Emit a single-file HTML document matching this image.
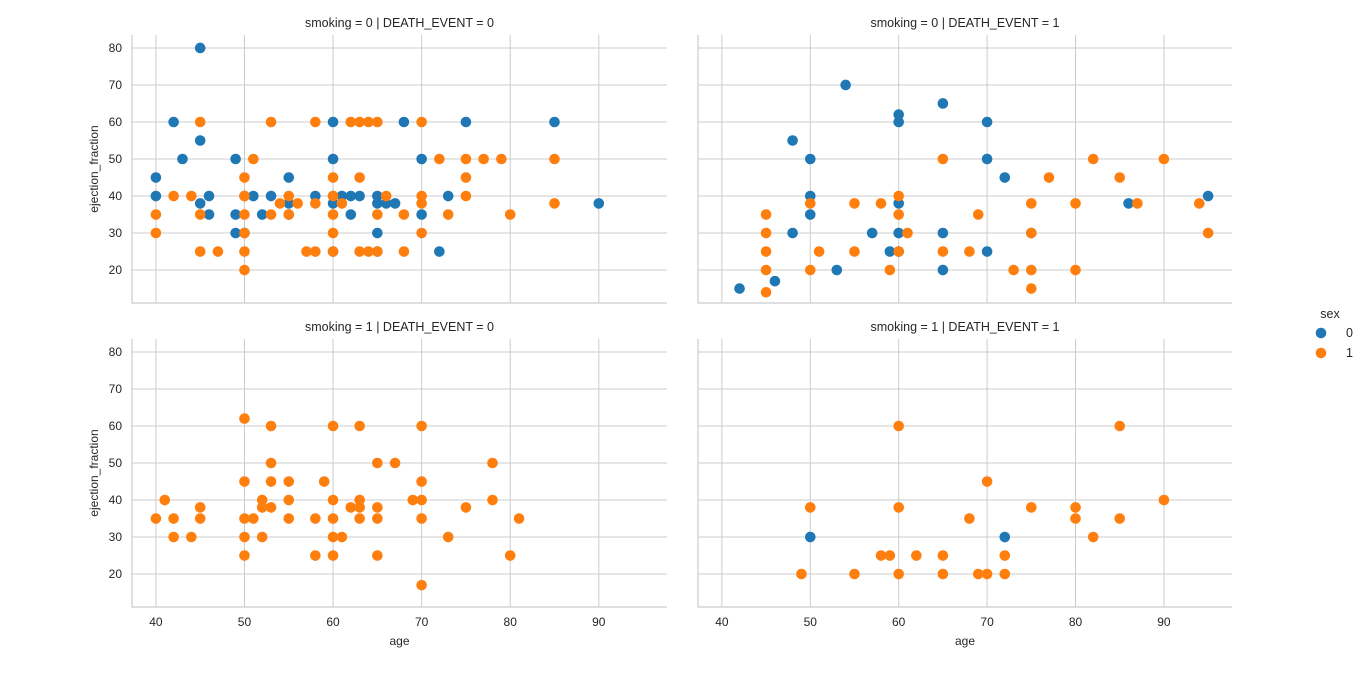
<!DOCTYPE html>
<html><head><meta charset="utf-8"><style>
html,body{margin:0;padding:0;background:#fff;}
svg text{font-family:"Liberation Sans",sans-serif;fill:#262626;}
</style></head><body>
<svg id="chart" width="1366" height="669" xmlns="http://www.w3.org/2000/svg"></svg>
<script>
const xTicks=[40,50,60,70,80,90];
const yTicks=[20,30,40,50,60,70,80];
const panelTitles=["smoking = 0 | DEATH_EVENT = 0","smoking = 0 | DEATH_EVENT = 1","smoking = 1 | DEATH_EVENT = 0","smoking = 1 | DEATH_EVENT = 1"];
const p00Male=[[40,45],[40,40],[42,60],[43,50],[45,80],[45,55],[45,38],[46,40],[46,35],[49,50],[49,35],[49,30],[50,30],[51,40],[52,35],[53,40],[55,45],[55,38],[55,35],[58,40],[60,60],[60,50],[60,38],[60,40],[61,40],[62,40],[62,35],[63,40],[65,40],[65,38],[65,30],[65,25],[66,38],[67,38],[68,60],[70,50],[70,35],[72,25],[73,40],[75,60],[85,60],[90,38],[60,25],[50,40]];
const p00Female=[[40,35],[40,30],[42,40],[44,40],[45,60],[45,35],[45,25],[47,25],[50,45],[50,40],[50,35],[50,30],[50,25],[50,20],[51,50],[53,60],[53,35],[54,38],[55,40],[55,35],[56,38],[57,25],[58,60],[58,38],[58,25],[60,45],[60,40],[60,35],[60,30],[60,25],[61,38],[62,60],[63,60],[64,60],[65,60],[63,45],[63,25],[64,25],[65,25],[65,35],[66,40],[68,35],[68,25],[70,60],[70,40],[70,38],[70,30],[72,50],[73,35],[75,50],[75,45],[75,40],[77,50],[79,50],[80,35],[85,50],[85,38]];
const p01Male=[[42,15],[46,17],[48,55],[48,30],[50,50],[50,40],[50,35],[53,20],[54,70],[57,30],[59,25],[60,62],[60,60],[60,38],[60,30],[60,25],[65,65],[65,30],[65,20],[70,60],[70,50],[70,25],[72,45],[75,30],[86,38],[95,40]];
const p01Female=[[45,35],[45,30],[45,25],[45,20],[45,14],[50,38],[50,20],[51,25],[55,38],[55,25],[58,38],[59,20],[60,40],[60,35],[60,25],[61,30],[65,50],[65,25],[68,25],[69,35],[73,20],[75,38],[75,30],[75,20],[75,15],[77,45],[80,38],[80,20],[82,50],[85,45],[87,38],[90,50],[94,38],[95,30]];
const p10Male=[];
const p10Female=[[40,35],[41,40],[42,35],[42,30],[44,30],[45,38],[45,35],[50,62],[50,45],[50,35],[50,30],[50,25],[51,35],[52,40],[52,38],[52,30],[53,60],[53,50],[53,45],[53,38],[55,45],[55,40],[55,35],[58,35],[58,25],[59,45],[60,60],[60,40],[60,35],[60,30],[60,25],[61,30],[62,38],[63,60],[63,40],[63,38],[63,35],[65,50],[65,38],[65,35],[65,25],[67,50],[69,40],[70,60],[70,45],[70,40],[70,35],[70,17],[73,30],[75,38],[78,50],[78,40],[80,25],[81,35]];
const p11Male=[[50,30],[72,30]];
const p11Female=[[49,20],[50,38],[55,20],[58,25],[59,25],[60,60],[60,38],[60,20],[62,25],[65,25],[65,20],[68,35],[69,20],[70,45],[70,20],[72,25],[72,20],[75,38],[80,38],[80,35],[82,30],[85,60],[85,35],[90,40]];

const NS="http://www.w3.org/2000/svg";
const svg=document.getElementById('chart');
function mk(tag,attrs,parent){const e=document.createElementNS(NS,tag);for(const k in attrs)e.setAttribute(k,attrs[k]);(parent||svg).appendChild(e);return e;}
const XMIN=37.3,XMAX=97.7,YMIN=11.1,YMAX=83.5;
const panels=[
 {l:132,r:667,t:35,b:303,m:p00Male,f:p00Female,yl:true,xl:false},
 {l:698,r:1232,t:35,b:303,m:p01Male,f:p01Female,yl:false,xl:false},
 {l:132,r:667,t:339,b:607,m:p10Male,f:p10Female,yl:true,xl:true},
 {l:698,r:1232,t:339,b:607,m:p11Male,f:p11Female,yl:false,xl:true}];
panels.forEach((p,i)=>{
 const g=mk('g',{});
 
 
 const xs=v=>p.l+(v-XMIN)/(XMAX-XMIN)*(p.r-p.l);
 const ys=v=>p.b-(v-YMIN)/(YMAX-YMIN)*(p.b-p.t);
 xTicks.forEach(t=>{const ln=mk('line',{x1:xs(t),x2:xs(t),y1:p.t,y2:p.b,stroke:'#cccccc','stroke-width':1},g);
  
  if(p.xl){const tx=mk('text',{x:xs(t),y:p.b+19,'text-anchor':'middle','font-size':12},g);tx.textContent=t;
   }});
 yTicks.forEach(t=>{const ln=mk('line',{x1:p.l,x2:p.r,y1:ys(t),y2:ys(t),stroke:'#cccccc','stroke-width':1},g);
  
  if(p.yl){const tx=mk('text',{x:p.l-10,y:ys(t)+4,'text-anchor':'end','font-size':12},g);tx.textContent=t;
   }});
 const sp=mk('path',{d:`M${p.l},${p.t}V${p.b}H${p.r}`,fill:'none',stroke:'#cccccc','stroke-width':1.2},g);
 
 const tt=mk('text',{x:(p.l+p.r)/2,y:p.t-8,'text-anchor':'middle','font-size':12.5},g);tt.textContent=panelTitles[i];
 
 if(p.yl){const yt=mk('text',{x:0,y:0,transform:`translate(98,${(p.t+p.b)/2}) rotate(-90)`,'text-anchor':'middle','font-size':12},g);yt.textContent='ejection_fraction';
  }
 if(p.xl){const xt=mk('text',{x:(p.l+p.r)/2,y:p.b+38,'text-anchor':'middle','font-size':12},g);xt.textContent='age';
  }
 p.m.forEach(d=>{const c=mk('circle',{cx:xs(d[0]),cy:ys(d[1]),r:5.3,fill:'#1f77b4'},g);
  });
 p.f.forEach(d=>{const c=mk('circle',{cx:xs(d[0]),cy:ys(d[1]),r:5.3,fill:'#ff7f0e'},g);
  });
});
const lg=mk('g',{});


const lt=mk('text',{x:1330,y:318,'text-anchor':'middle','font-size':12.5},lg);lt.textContent='sex';

[['0','#1f77b4',333],['1','#ff7f0e',353]].forEach(e=>{
 const c=mk('circle',{cx:1321,cy:e[2],r:5.3,fill:e[1]},lg);
 
 const t=mk('text',{x:1346,y:e[2]+4,'font-size':12.5},lg);t.textContent=e[0];
 
});
</script>
</body></html>
